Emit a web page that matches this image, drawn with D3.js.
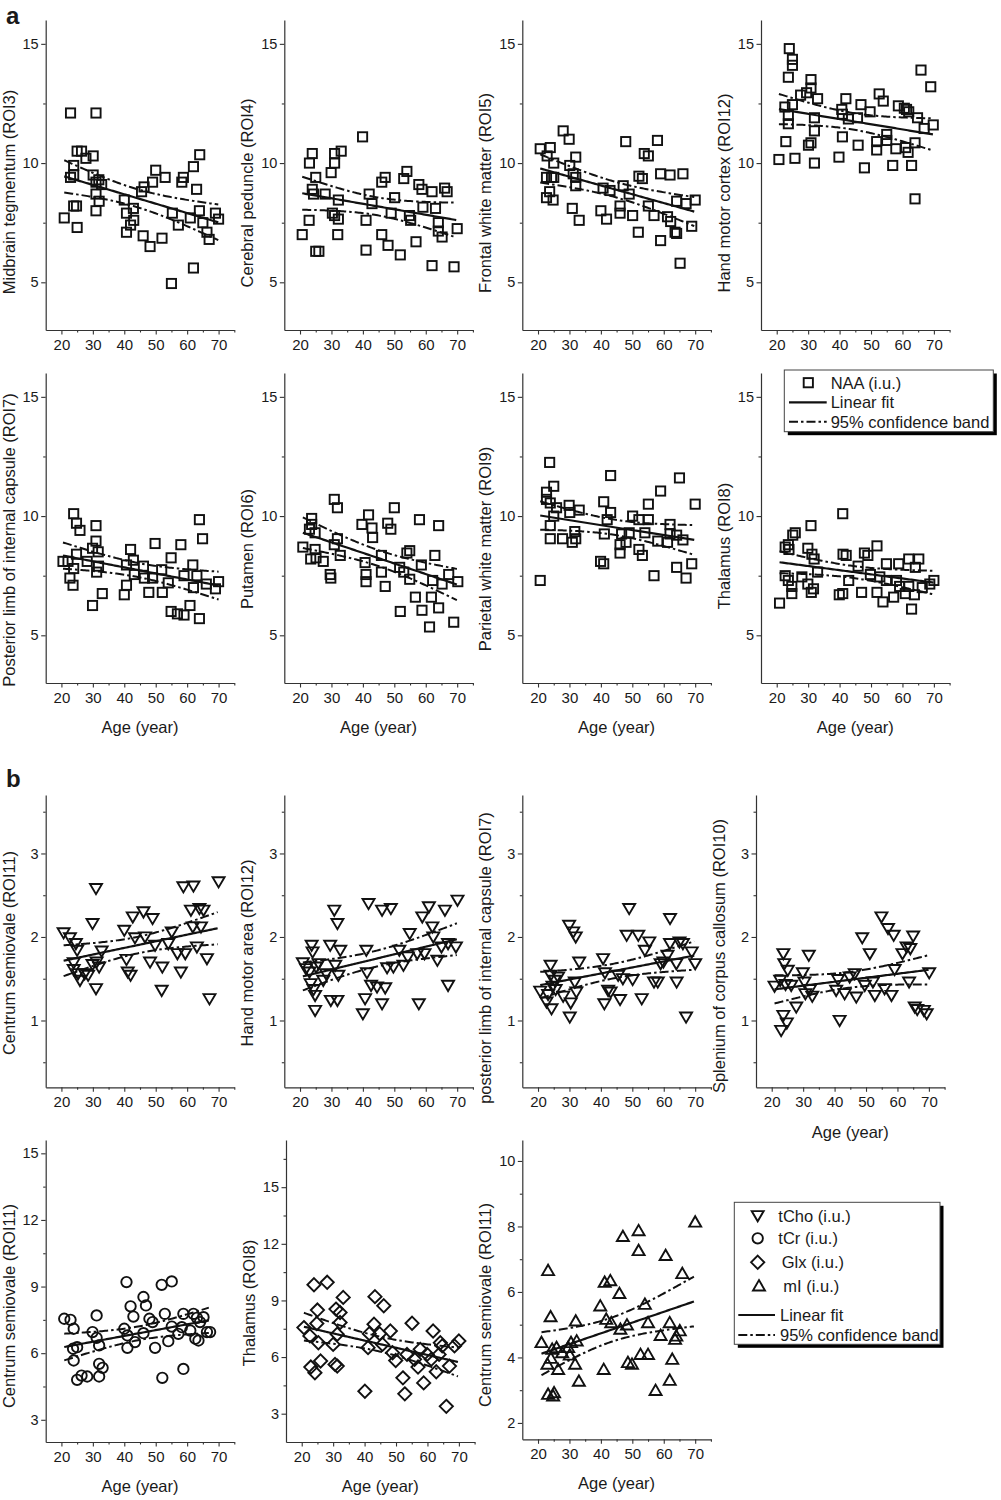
<!DOCTYPE html>
<html><head><meta charset="utf-8">
<script src="https://cdn.jsdelivr.net/npm/d3@7"></script>
<style>
body{margin:0;background:#fff}
svg{display:block}
text{font-family:"Liberation Sans",Arial,Helvetica,sans-serif;fill:#1a1a1a}
</style></head>
<body><svg id="c" width="1001" height="1500"></svg>
<script>
// ---------------- DATA: [age (year), value (i.u.)] ----------------
const naaROI3 = [[20.9,7.7],[22.9,12.1],[22.9,9.4],[23.9,9.5],[23.9,9.9],[23.9,8.2],[24.8,8.2],[25,7.3],[25,10.5],[26.4,10.5],[27.8,10.2],[30.1,10.3],[30.1,9.5],[31,12.1],[31,9.2],[31,8.7],[31,8.0],[31.9,9.3],[32,8.4],[32.8,9.1],[40,8.45],[40.7,7.9],[40.7,7.1],[42,7.4],[42.9,8.1],[43,7.6],[45.5,8.8],[46,6.95],[46.3,9.0],[48.2,6.5],[49,9.2],[50,9.7],[52,6.85],[53,9.4],[55,4.95],[55.3,7.9],[57.2,7.4],[58.3,9.2],[58.8,9.4],[61,7.7],[62,9.85],[62,5.6],[63,8.9],[63.9,8.0],[64,10.35],[65,7.5],[66.3,7.1],[67,6.8],[69,7.9],[70,7.65]];
const naaROI4 = [[20.7,7.0],[22.9,7.6],[23,10.0],[23.9,10.4],[23.9,8.9],[24.3,8.7],[25,9.4],[25,6.3],[26,6.3],[28,8.7],[29.9,9.6],[31,10.0],[31,10.4],[30.3,7.9],[31,7.8],[32.2,8.45],[32.2,7.65],[32,7.0],[33.1,10.5],[39.9,11.1],[41,7.6],[41,6.35],[42,8.7],[42.9,8.3],[46,7.0],[46,9.2],[47.1,9.4],[48,6.55],[49,7.9],[50.1,8.55],[51.9,6.15],[53,9.35],[54,9.65],[54.8,7.8],[55.2,7.6],[56.9,6.7],[57.8,9.1],[58.8,8.9],[59.1,8.15],[62,8.8],[63.1,8.1],[62,5.7],[64,7.5],[64,7.15],[65.2,6.9],[66,8.95],[66.8,8.8],[69,5.65],[70,7.25]];
const naaROI5 = [[20.7,10.6],[22.9,10.3],[23.9,10.65],[25,10.0],[22.7,9.4],[24.3,9.4],[25,9.4],[22.7,8.55],[24.8,8.45],[23.7,8.8],[28,11.35],[29.9,11.0],[30.1,9.9],[31.2,9.55],[32,10.25],[32,9.4],[32,9.05],[30.9,8.1],[33.1,7.6],[40,8.0],[40.7,8.95],[41.8,7.65],[42.9,8.85],[46.1,8.2],[46.1,7.9],[47.1,9.05],[47.9,10.9],[49,8.7],[50.1,7.8],[51.9,7.1],[52.1,9.45],[53.2,9.35],[53.8,10.4],[55.1,10.3],[55.1,8.2],[56.9,7.8],[58,10.95],[59,6.75],[59,9.55],[61.2,7.75],[62.2,7.55],[62,9.5],[63.6,7.1],[64.1,7.05],[64.1,8.4],[65.2,5.8],[66.1,9.55],[67.1,8.3],[68.9,7.35],[70,8.45]];
const naaROI12 = [[20.7,10.15],[22.9,10.9],[22.6,12.35],[23.7,12.0],[23.7,11.65],[23.7,13.6],[24,14.8],[25,14.35],[25,14.1],[25,12.45],[25.8,10.2],[27.6,12.85],[29.5,12.95],[30.1,10.75],[30.9,13.5],[30.9,13.15],[30.9,10.85],[32,11.9],[32,11.35],[32,10.0],[33,12.7],[39.8,10.25],[40.7,12.25],[40.9,12.05],[40.9,11.1],[42,12.7],[42.8,11.85],[45.7,11.9],[46.8,12.45],[45.9,10.75],[47.9,9.8],[49.7,12.15],[51.8,10.55],[51.8,10.9],[52.6,12.9],[53.9,12.6],[55,11.2],[55,10.95],[56.9,9.9],[57.9,10.6],[58.7,12.4],[60.6,12.3],[61.3,12.25],[61,10.65],[61.8,10.45],[62,12.15],[62.9,9.9],[64,10.85],[64,8.5],[64.8,11.9],[65.9,13.9],[66.9,11.45],[69,13.2],[69.8,11.6]];
const naaROI7 = [[20.5,8.1],[22.1,8.1],[22.7,7.4],[23.7,7.1],[23.9,7.8],[23.9,10.1],[24.8,9.7],[24.8,8.4],[25.9,9.4],[28.2,8.1],[29.9,8.65],[31,9.6],[31,8.95],[31.2,7.65],[31.7,8.5],[31.8,7.9],[29.9,6.25],[33,6.75],[40,6.7],[40.7,7.1],[40.7,7.95],[42,8.6],[42.9,8.15],[43.2,7.55],[46.1,7.9],[46.4,7.4],[47.8,6.8],[49,7.4],[49.8,8.85],[51.9,7.75],[52.1,6.8],[54,7.2],[54.9,8.25],[54.9,6.0],[56.9,5.9],[58,8.8],[59,5.85],[59,7.5],[60.9,6.25],[61.8,7.95],[62,7.0],[63.1,7.5],[63.9,5.7],[63.9,9.85],[64.9,9.05],[66.1,7.15],[69,6.95],[70,7.25]];
const naaROI6 = [[20.9,8.7],[23,9.45],[23.7,9.9],[23.7,9.65],[23.4,8.2],[24.8,9.3],[24.8,8.6],[25.1,8.25],[27.4,8.1],[29.6,7.55],[29.8,7.4],[30.9,10.7],[31.9,10.35],[30.9,8.8],[31.9,9.05],[32.8,8.35],[39.7,9.65],[40.7,8.05],[41,7.55],[41,7.25],[41.8,10.05],[42.9,9.5],[43.1,9.1],[45.9,8.35],[45.9,7.65],[47.1,7.05],[47.9,9.7],[48.9,9.45],[50,10.35],[51.7,7.85],[51.9,6.0],[53,7.65],[54,8.45],[54.9,8.55],[54.9,7.35],[56.7,6.6],[58,9.85],[58.6,7.95],[58.8,6.05],[61.2,5.35],[61.8,6.6],[62.2,7.3],[62.9,8.35],[64.1,6.15],[64.1,9.6],[65.2,7.15],[67.3,7.55],[68.9,5.55],[70.2,7.25]];
const naaROI9 = [[20.7,7.3],[22.7,11.0],[23.7,12.25],[22.7,10.7],[23.9,10.55],[23.9,9.6],[23.9,9.05],[25,11.25],[25,10.0],[25.9,10.35],[27.8,9.05],[29.9,10.45],[30.1,10.15],[30.9,8.9],[31.7,9.35],[32,9.05],[33.1,10.25],[39.9,8.1],[40.9,8.0],[40.9,10.6],[41.1,9.25],[42,9.85],[43.1,10.15],[43.1,11.7],[46.1,8.45],[46.1,8.8],[46.6,9.25],[48,8.9],[49,9.3],[50.1,10.0],[52.1,9.85],[52.1,8.6],[53.2,8.35],[54,9.3],[55.1,10.5],[55.1,9.85],[56.9,7.5],[58.1,8.95],[59,11.05],[61.2,8.9],[62,9.65],[62,9.25],[64.1,9.2],[64.1,7.85],[65,11.6],[66.1,9.0],[67.1,7.4],[68.9,8.0],[70,10.5]];
const naaROI8 = [[20.9,6.35],[22.7,7.5],[22.7,8.7],[23.7,8.8],[23.9,8.6],[23.7,7.3],[24.8,7.05],[24.8,6.75],[25.1,9.2],[25.9,9.3],[28,7.45],[29.9,8.65],[29.9,7.15],[30.9,9.6],[31,6.8],[31.7,6.95],[31.2,8.4],[31.9,8.2],[33,7.65],[39.9,6.7],[41,6.75],[41,10.1],[41.1,8.4],[42.1,8.35],[42.9,7.3],[45.9,7.9],[47,6.8],[47.9,8.45],[49,8.35],[49.8,7.55],[51.9,6.8],[51.9,8.75],[52.8,7.45],[53.8,6.4],[54.9,7.3],[54.9,8.0],[57.2,6.6],[58.8,8.0],[58.1,7.3],[59.1,7.05],[60.9,6.75],[62,8.2],[62,7.05],[62.9,6.1],[63.8,6.7],[64.1,7.85],[65.2,8.2],[66.3,7.0],[68.7,7.15],[70,7.3]];
const choROI11 = [[20.7,2.05],[22.7,1.99],[23.9,1.69],[23.9,1.61],[24.6,1.92],[25,1.84],[25.3,1.56],[25.9,1.48],[27.4,1.56],[28.5,1.54],[29.9,2.16],[29.9,1.67],[31,2.58],[31,1.38],[31.2,1.70],[32,1.64],[32.8,1.83],[40,2.08],[40.7,1.73],[41.1,1.58],[42,1.54],[42.7,2.24],[43.4,1.99],[46.1,2.30],[46.6,2.0],[48.2,1.70],[49,2.22],[49.8,1.90],[51.9,1.36],[52.1,1.64],[54,1.92],[55.1,2.06],[56.9,1.80],[58,1.58],[58.8,2.60],[59.4,1.80],[61.2,2.32],[62,2.61],[61.8,2.12],[63.1,1.88],[63.9,2.34],[64.4,2.12],[65.2,2.32],[66.3,1.74],[67.1,1.26],[70,2.66]];
const choROI12 = [[20.9,1.69],[21.9,1.62],[23,1.58],[23.4,1.44],[23.7,1.90],[24,1.82],[24.3,1.37],[24.8,1.30],[24.8,1.12],[25.1,1.64],[25.9,1.68],[27.4,1.48],[28.3,1.56],[29.6,1.90],[29.8,1.24],[30.9,2.32],[31.2,1.66],[31.9,2.16],[31.9,1.24],[32.2,1.54],[32.8,1.84],[40,1.08],[40.7,1.26],[41.1,1.84],[41.3,1.57],[41.8,2.40],[42.6,1.42],[44.5,1.40],[46.1,1.20],[46.1,2.32],[47.1,1.39],[47.7,1.63],[48.9,2.34],[49.7,1.64],[51.6,1.84],[52.9,1.66],[54.9,2.04],[54.3,1.76],[57.3,1.80],[57.8,1.20],[58.9,2.24],[59.6,1.80],[61,2.36],[62.1,2.12],[62.4,2.0],[63.7,1.72],[65,1.88],[66.1,2.32],[67.1,1.42],[67.1,1.92],[69.6,1.88],[70.1,2.44]];
const choROI7 = [[20.7,1.35],[22.7,1.22],[23.2,1.31],[24,1.66],[24,1.54],[24.3,1.14],[24.6,1.41],[25.3,1.48],[25.6,1.37],[26.4,1.52],[28,1.29],[29.9,2.14],[30.1,1.04],[30.4,1.21],[31.2,2.06],[32,2.0],[31.7,1.46],[32.2,1.34],[33.1,1.70],[40.7,1.74],[41.1,1.20],[41.3,1.57],[42.3,1.36],[43.1,1.34],[45.5,1.54],[46.1,1.25],[47,1.50],[48.2,2.02],[49,2.34],[50.1,1.49],[51.9,2.02],[53,1.26],[54,1.84],[55.4,1.94],[56.9,1.46],[58.1,1.46],[59,1.68],[59.9,1.70],[61.2,1.78],[62,2.22],[62,1.92],[64,1.68],[64.1,1.46],[65,1.94],[66.1,1.92],[67.1,1.04],[68.9,1.82],[70,1.68]];
const choROI10 = [[20.9,1.41],[22.7,1.48],[23,0.88],[23.7,1.80],[23.7,1.06],[24,1.68],[24.4,1.43],[24.8,0.97],[25.1,1.60],[26.2,1.42],[27.8,1.16],[29.9,1.57],[30.4,1.46],[30.7,1.32],[31.8,1.78],[32.2,1.37],[32.9,1.29],[40.5,1.36],[41.1,1.49],[41.6,1.0],[43.2,1.32],[44.8,1.52],[46.4,1.56],[46.9,1.28],[48.8,1.99],[49.6,1.42],[51.2,1.80],[52.2,1.46],[52.8,1.30],[54.9,2.24],[55.9,1.38],[57,2.10],[58.1,1.30],[58.8,2.02],[59.1,1.61],[61.6,1.80],[62.9,1.88],[63.7,1.46],[65,2.01],[64.1,1.86],[65.5,1.16],[66.3,1.13],[68.4,1.12],[69.3,1.08],[70.1,1.57]];
const crROI11 = [[20.9,7.55],[22.9,7.5],[23.9,7.1],[23.7,6.2],[23.9,5.67],[25,6.27],[25,4.8],[26.4,4.99],[28.2,4.95],[29.9,6.95],[31.2,7.7],[31.2,6.69],[32,6.35],[32,4.95],[32,5.52],[33.1,5.34],[40,7.1],[40.7,9.2],[41,6.8],[41,6.24],[42,8.11],[42.9,7.65],[43.4,6.5],[46.1,8.53],[46.9,8.15],[46.1,6.9],[48,7.55],[49,7.4],[49.8,6.24],[51.9,9.08],[52.1,4.89],[52.9,7.77],[54,6.54],[55.1,9.23],[55.1,7.2],[57.2,6.87],[58.3,7.17],[58.8,7.77],[58.8,5.29],[61,7.02],[62,7.77],[62.6,6.65],[63.1,7.59],[63.6,6.57],[64.1,7.4],[65.2,7.62],[66.3,6.95],[67.3,6.95]];
const glxROI8 = [[20.7,7.56],[22.6,7.12],[22.9,5.47],[23.9,9.83],[24.2,5.17],[24.8,7.78],[25,8.49],[25.3,6.76],[26,5.79],[28.1,9.96],[30,6.67],[30.6,5.61],[30.9,8.54],[31.3,5.52],[32.2,8.36],[32.2,7.83],[31.3,7.21],[33.2,9.16],[40.1,4.19],[41.1,6.5],[41.5,7.24],[43,7.74],[43.3,9.2],[44.8,7.24],[45.7,6.67],[46.1,8.72],[48.2,7.38],[48.9,6.23],[49.9,5.82],[52.2,4.9],[52.8,4.05],[53.5,6.14],[55.1,7.79],[55.9,5.88],[57,5.47],[57.7,6.41],[58.8,4.63],[59.9,6.14],[61.2,5.88],[61.8,7.38],[62.8,5.22],[63.7,6.14],[64.1,6.76],[64.7,6.59],[66,3.39],[67,5.52],[68.6,6.59],[70,6.85]];
const miROI11 = [[21.1,4.46],[23,3.8],[23.2,6.66],[23.2,2.88],[24,5.25],[24.1,3.98],[24.5,4.26],[24.8,2.83],[25.1,2.93],[25.9,4.31],[26.4,3.64],[27.7,4.15],[29.6,4.31],[30.1,4.08],[30.5,4.46],[31.8,3.8],[32,5.12],[32.3,4.51],[33,3.28],[39.8,5.58],[40.9,3.64],[41.2,6.3],[41.7,5.17],[43,6.35],[43.3,5.07],[45.9,5.96],[46.2,4.87],[47,7.7],[48.3,5.0],[48.6,3.85],[49.9,3.8],[52,7.88],[52,7.27],[52.6,4.1],[54,5.63],[55,4.1],[55,5.07],[57.4,3.0],[59,4.68],[60.6,7.12],[61.9,5.07],[61.9,3.31],[62.7,3.95],[63.6,4.56],[64,4.66],[65.1,4.82],[65.9,6.57],[70,8.14]];

const yTitles = ["Midbrain tegmentum (ROI3)","Cerebral peduncle (ROI4)","Frontal white matter (ROI5)","Hand motor cortex (ROI12)",
  "Posterior limb of internal capsule (ROI7)","Putamen (ROI6)","Parietal white matter (ROI9)","Thalamus (ROI8)",
  "Centrum semiovale (ROI11)","Hand motor area (ROI12)","posterior limb of internal capsule (ROI7)","Splenium of corpus callosum (ROI10)",
  "Centrum semiovale (ROI11)","Thalamus (ROI8)","Centrum semiovale (ROI11)"];
const xTitle = "Age (year)";
const xMajor = [20,30,40,50,60,70];
const xMinor = [25,35,45,55,65,75];
const naaMajor = [5,10,15], naaMinor = [7.5,12.5];
const choMajor = [1,2,3], choMinor = [0.5,1.5,2.5,3.5];
const crMajor = [3,6,9,12,15], crMinor = [4.5,7.5,10.5,13.5];
const glxMajor = [3,6,9,12,15], glxMinor = [4.5,7.5,10.5,13.5,16.5];
const miMajor = [2,4,6,8,10], miMinor = [3,5,7,9];
const legendA = ["NAA (i.u.)","Linear fit","95% confidence band"];
const legendB = ["tCho (i.u.)","tCr (i.u.)","Glx (i.u.)","mI (i.u.)","Linear fit","95% confidence band"];

// ---------------- LAYOUT ----------------
const W = 188.6, T95 = 2.013;
const P = [
 {d:naaROI3, m:"sq", x:45.7, top:20, bot:330, dom:[3,16], M:naaMajor, m2:naaMinor, ly:192, xt:false},
 {d:naaROI4, m:"sq", x:284.3, top:20, bot:330, dom:[3,16], M:naaMajor, m2:naaMinor, ly:193, xt:false},
 {d:naaROI5, m:"sq", x:522.3, top:20, bot:330, dom:[3,16], M:naaMajor, m2:naaMinor, ly:193, xt:false},
 {d:naaROI12, m:"sq", x:761, top:20, bot:330, dom:[3,16], M:naaMajor, m2:naaMinor, ly:193, xt:false},
 {d:naaROI7, m:"sq", x:45.7, top:373, bot:683, dom:[3,16], M:naaMajor, m2:naaMinor, ly:540, xt:true},
 {d:naaROI6, m:"sq", x:284.3, top:373, bot:683, dom:[3,16], M:naaMajor, m2:naaMinor, ly:549, xt:true},
 {d:naaROI9, m:"sq", x:522.3, top:373, bot:683, dom:[3,16], M:naaMajor, m2:naaMinor, ly:549, xt:true},
 {d:naaROI8, m:"sq", x:761, top:373, bot:683, dom:[3,16], M:naaMajor, m2:naaMinor, ly:546, xt:true},
 {d:choROI11, m:"td", x:45.7, top:795, bot:1087.3, dom:[0.2,3.7], M:choMajor, m2:choMinor, ly:953, xt:false},
 {d:choROI12, m:"td", x:284.3, top:795, bot:1087.3, dom:[0.2,3.7], M:choMajor, m2:choMinor, ly:953, xt:false},
 {d:choROI7, m:"td", x:522.3, top:795, bot:1087.3, dom:[0.2,3.7], M:choMajor, m2:choMinor, ly:958, xt:false},
 {d:choROI10, m:"td", x:756, top:795, bot:1087.3, dom:[0.2,3.7], M:choMajor, m2:choMinor, ly:956, xt:true},
 {d:crROI11, m:"ci", x:45.7, top:1140, bot:1442, dom:[2,15.6], M:crMajor, m2:crMinor, ly:1306, xt:true},
 {d:glxROI8, m:"di", x:286, top:1140, bot:1442, dom:[1.5,17.5], M:glxMajor, m2:glxMinor, ly:1303, xt:true},
 {d:miROI11, m:"tu", x:522.3, top:1140, bot:1439.3, dom:[1.5,10.64], M:miMajor, m2:miMinor, ly:1305, xt:true}
];

const svg = d3.select("#c");
const INK = "#111";

function marker(g, type, cx, cy){
  let el;
  if(type==="sq") el = g.append("rect").attr("x",cx-4.6).attr("y",cy-4.6).attr("width",9.2).attr("height",9.2);
  else if(type==="ci") el = g.append("circle").attr("cx",cx).attr("cy",cy).attr("r",5.2);
  else {
    let p;
    if(type==="td") p = [[-6,-4.6],[6,-4.6],[0,5.6]];
    else if(type==="tu") p = [[-6,4.8],[6,4.8],[0,-5.6]];
    else p = [[0,-6.6],[6.6,0],[0,6.6],[-6.6,0]];
    el = g.append("path").attr("d","M"+p.map(q=>(cx+q[0])+","+(cy+q[1])).join("L")+"Z");
  }
  el.attr("fill","none").attr("stroke",INK).attr("stroke-width",1.9);
  return el;
}

function regression(data){
  const n=data.length, mx=d3.mean(data,d=>d[0]), my=d3.mean(data,d=>d[1]);
  let sxx=0,sxy=0; data.forEach(d=>{sxx+=(d[0]-mx)**2; sxy+=(d[0]-mx)*(d[1]-my);});
  const b=sxy/sxx, a=my-b*mx;
  let sse=0; data.forEach(d=>{sse+=(d[1]-(a+b*d[0]))**2;});
  const s=Math.sqrt(sse/(n-2));
  return {n,mx,sxx,a,b,s};
}

P.forEach((p,i)=>{
  const x = d3.scaleLinear([15,75],[p.x,p.x+W]);
  const y = d3.scaleLinear(p.dom,[p.bot,p.top]);
  const g = svg.append("g");

  const ya = g.append("g").attr("transform",`translate(${p.x},0)`)
    .call(d3.axisLeft(y).tickValues(p.M).tickSize(4.5).tickSizeOuter(0).tickPadding(2.5).tickFormat(d3.format("d")));
  g.append("g").attr("transform",`translate(${p.x},0)`)
    .call(d3.axisLeft(y).tickValues(p.m2).tickSize(2.5).tickSizeOuter(0).tickFormat(""))
    .call(s=>s.select(".domain").remove());
  const xa = g.append("g").attr("transform",`translate(0,${p.bot})`)
    .call(d3.axisBottom(x).tickValues(xMajor).tickSize(4.5).tickSizeOuter(0).tickPadding(5));
  g.append("g").attr("transform",`translate(0,${p.bot})`)
    .call(d3.axisBottom(x).tickValues(xMinor).tickSize(2.5).tickSizeOuter(0).tickFormat(""))
    .call(s=>s.select(".domain").remove());
  g.selectAll(".domain").attr("stroke","#333").attr("stroke-width",1.2);
  g.selectAll(".tick line").attr("stroke","#333").attr("stroke-width",1.1);
  ya.selectAll("text").attr("font-size",14.5).attr("fill","#1a1a1a").attr("font-family","Liberation Sans, Arial, sans-serif");
  xa.selectAll("text").attr("font-size",15).attr("fill","#1a1a1a").attr("font-family","Liberation Sans, Arial, sans-serif");

  g.append("text").attr("transform",`translate(${p.x-31},${p.ly}) rotate(-90)`)
    .attr("text-anchor","middle").attr("font-size",16.5).text(yTitles[i]);
  if(p.xt){
    g.append("text").attr("x",p.x+W/2).attr("y",p.bot+(i===11?51:50)).attr("text-anchor","middle")
      .attr("font-size",16.5).text(xTitle);
  }

  const r = regression(p.d);
  const xs = d3.range(d3.min(p.d,d=>d[0]), d3.max(p.d,d=>d[0])+0.001, 0.5);
  const se = xv => r.s*Math.sqrt(1/r.n + (xv-r.mx)**2/r.sxx);
  const line = d3.line().x(d=>x(d[0])).y(d=>y(d[1]));
  const fit = xs.map(v=>[v, r.a+r.b*v]);
  const up = xs.map(v=>[v, r.a+r.b*v + T95*se(v)]);
  const lo = xs.map(v=>[v, r.a+r.b*v - T95*se(v)]);

  const mg = g.append("g");
  p.d.forEach(d=>marker(mg, p.m, x(d[0]), y(d[1])));

  g.append("path").attr("d",line(fit)).attr("fill","none").attr("stroke",INK).attr("stroke-width",2.2);
  [up,lo].forEach(b=>g.append("path").attr("d",line(b)).attr("fill","none").attr("stroke",INK)
     .attr("stroke-width",2).attr("stroke-dasharray","9,3,2.5,3"));
});

svg.append("text").attr("x",6).attr("y",24).attr("font-size",24).attr("font-weight","bold").text("a");
svg.append("text").attr("x",6).attr("y",787).attr("font-size",24).attr("font-weight","bold").text("b");

function legendBox(x0,y0,x1,y1){
  svg.append("rect").attr("x",x0+3.5).attr("y",y0+3.5).attr("width",x1-x0).attr("height",y1-y0).attr("fill","#000");
  svg.append("rect").attr("x",x0).attr("y",y0).attr("width",x1-x0).attr("height",y1-y0).attr("fill","#fff")
    .attr("stroke","#444").attr("stroke-width",1);
}
legendBox(784.3,370,993.3,431.7);
const lga = svg.append("g");
marker(lga,"sq",808.3,382.7);
lga.append("text").attr("x",830.7).attr("y",388.5).attr("font-size",16.5).text(legendA[0]);
lga.append("line").attr("x1",789).attr("x2",826.7).attr("y1",402.3).attr("y2",402.3).attr("stroke",INK).attr("stroke-width",2.2);
lga.append("text").attr("x",830.7).attr("y",408).attr("font-size",16.5).text(legendA[1]);
lga.append("line").attr("x1",789).attr("x2",826.7).attr("y1",421.7).attr("y2",421.7).attr("stroke",INK).attr("stroke-width",2).attr("stroke-dasharray","9,3,2.5,3");
lga.append("text").attr("x",830.7).attr("y",427.5).attr("font-size",16.5).text(legendA[2]);

legendBox(734.3,1202.3,940,1344.3);
const lgb = svg.append("g");
const lbm = [["td",757.7,1215.7,778.3],["ci",757.7,1238.3,778.3],["di",757.7,1262.3,781.7],["tu",759,1285.7,783.3]];
lbm.forEach((q,k)=>{
  marker(lgb,q[0],q[1],q[2]);
  lgb.append("text").attr("x",q[3]).attr("y",q[2]+6).attr("font-size",16.5).text(legendB[k]);
});
lgb.append("line").attr("x1",738.3).attr("x2",775).attr("y1",1315).attr("y2",1315).attr("stroke",INK).attr("stroke-width",2.2);
lgb.append("text").attr("x",780).attr("y",1321).attr("font-size",16.5).text(legendB[4]);
lgb.append("line").attr("x1",738.3).attr("x2",775).attr("y1",1335).attr("y2",1335).attr("stroke",INK).attr("stroke-width",2).attr("stroke-dasharray","9,3,2.5,3");
lgb.append("text").attr("x",780).attr("y",1341).attr("font-size",16.5).text(legendB[5]);
</script></body></html>
